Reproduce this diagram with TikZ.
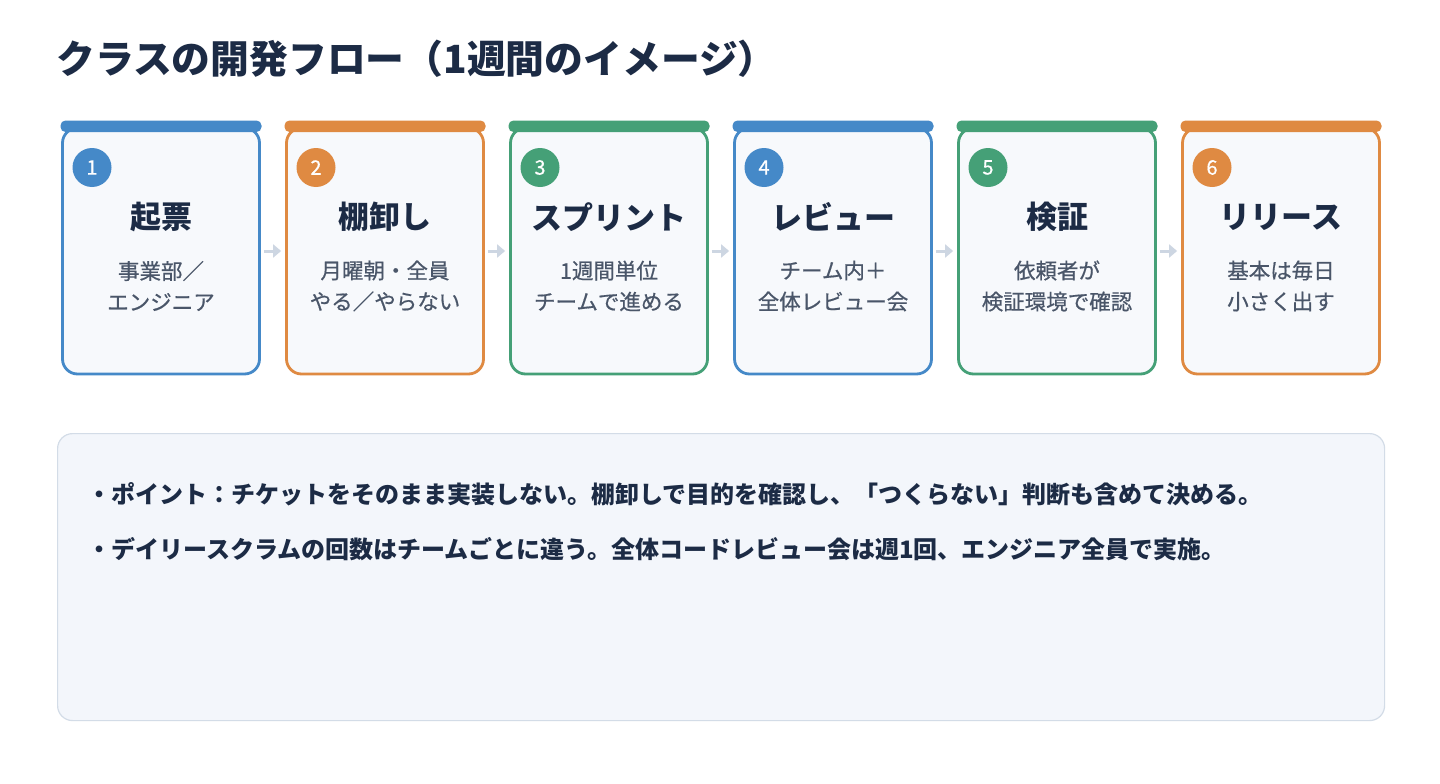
\documentclass[tikz,border=0pt]{standalone}
\usepackage{fontspec}
\setmainfont{Noto Sans CJK JP}
\newfontfamily\medfont[FakeBold=0.6]{Noto Sans CJK JP}
\usetikzlibrary{arrows.meta}
\definecolor{navy}{HTML}{1C2B45}
\definecolor{subgray}{HTML}{4A5669}
\definecolor{cblue}{HTML}{4589C8}
\definecolor{corange}{HTML}{DF8A42}
\definecolor{cgreen}{HTML}{45A077}
\definecolor{cardfill}{HTML}{F7F9FC}
\definecolor{boxfill}{HTML}{F3F6FB}
\definecolor{boxline}{HTML}{D3DCE7}
\definecolor{arrowgray}{HTML}{CDD6E2}
\tikzset{
  card/.style={draw=#1, line width=2.8pt, fill=cardfill, rounded corners=15pt,
    minimum width=197pt, minimum height=246pt, inner sep=0pt},
  badge/.style={circle, fill=#1, minimum size=39pt, inner sep=0pt, text=white,
    font=\fontsize{20}{20}\selectfont\medfont},
  ctitle/.style={text=navy, font=\fontsize{31}{31}\selectfont\bfseries},
  csub/.style={text=subgray, align=center, font=\fontsize{21.5}{31}\selectfont\medfont},
  flow/.style={draw=arrowgray, line width=3pt, -{Triangle[length=8pt,width=13pt]},
    shorten <=3pt, shorten >=4pt},
  notebox/.style={draw=boxline, line width=1.2pt, fill=boxfill, rounded corners=15pt},
  notetext/.style={text=navy, anchor=west, inner sep=0pt, font=\fontsize{24}{24}\selectfont\bfseries},
}
\begin{document}
\begin{tikzpicture}[x=1pt,y=-1pt]
\useasboundingbox (0,0) rectangle (1440,784);
\fill[white] (0,0) rectangle (1440,784);
\node[anchor=west, inner sep=0pt, text=navy, font=\fontsize{38.8}{38.8}\selectfont\bfseries] (title) at (56,59) {クラスの開発フロー（1週間のイメージ）};
\foreach \i/\col/\num/\ttl/\la/\lb in {
  0/cblue/1/起票/事業部／/エンジニア,
  1/corange/2/棚卸し/月曜朝・全員/やる／やらない,
  2/cgreen/3/スプリント/1週間単位/チームで進める,
  3/cblue/4/レビュー/チーム内＋/全体レビュー会,
  4/cgreen/5/検証/依頼者が/検証環境で確認,
  5/corange/6/リリース/基本は毎日/小さく出す} {
  \pgfmathsetmacro{\cx}{161+224*\i}
  \node[card=\col] (c\num) at (\cx,251) {};
  \fill[\col, rounded corners=5pt] (\cx-100.5,120.5) rectangle (\cx+100.5,132);
  \node[badge=\col] (b\num) at (\cx-69,167.5) {\num};
  \node[ctitle] (t\num) at (\cx,217) {\ttl};
  \node[csub] (s\num) at (\cx,286) {\la\\\lb};
}
\foreach \a/\b in {1/2,2/3,3/4,4/5,5/6} {
  \draw[flow] (c\a.east) -- (c\b.west);
}
\node[notebox, minimum width=1327pt, minimum height=287pt, anchor=north west, inner sep=0pt] (note) at (57,433) {};
\node[notetext] (n1) at (87,494) {・ポイント：チケットをそのまま実装しない。棚卸しで目的を確認し、「つくらない」判断も含めて決める。};
\node[notetext] (n2) at (87,549) {・デイリースクラムの回数はチームごとに違う。全体コードレビュー会は週1回、エンジニア全員で実施。};
\end{tikzpicture}
\end{document}
